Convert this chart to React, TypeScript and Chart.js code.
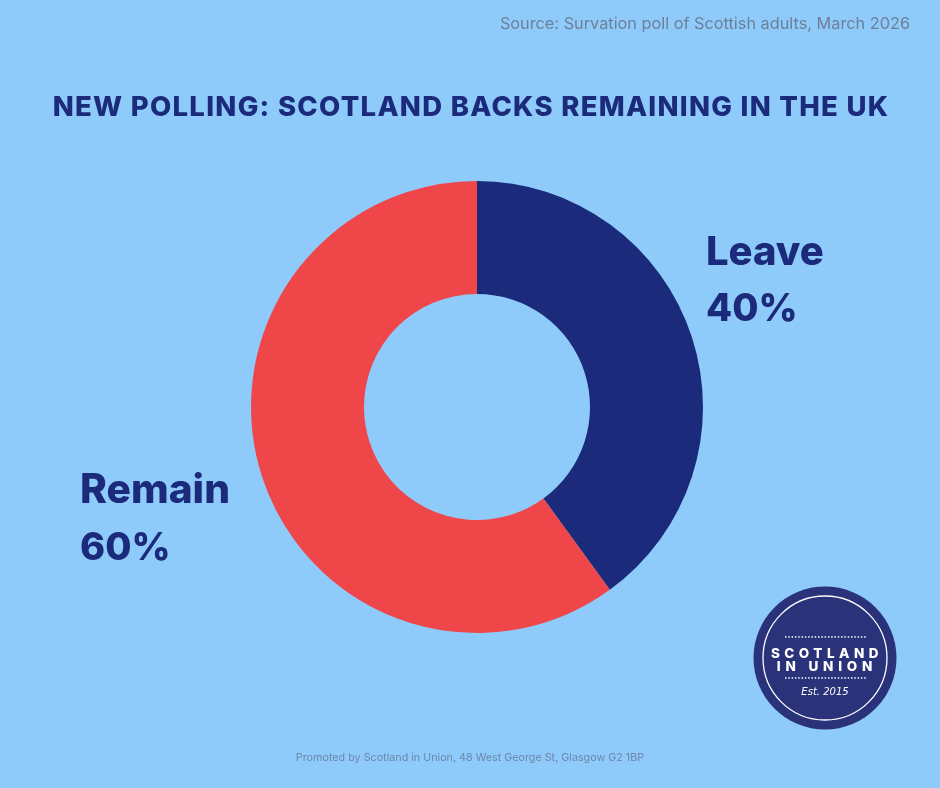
import { useEffect, useRef } from 'react';
import { Chart, registerables, type Plugin } from 'chart.js';

Chart.register(...registerables);

const categories = ['Leave', 'Remain'];
const values = [40, 60];
const colors = ['#1b2a7a', '#ef4749'];

const BG = '#8ecbfb';
const NAVY = '#1b2a7a';
const TITLE = 'NEW POLLING: SCOTLAND BACKS REMAINING IN THE UK';
const SOURCE = 'Source: Survation poll of Scottish adults, March 2026';
const FOOTER = 'Promoted by Scotland in Union, 48 West George St, Glasgow G2 1BP';

function put(ctx: CanvasRenderingContext2D, text: string, x: number, y: number, font: string, color: string, align: CanvasTextAlign = 'left', spacing = '0px') {
  ctx.font = font;
  ctx.fillStyle = color;
  ctx.textAlign = align;
  ctx.textBaseline = 'alphabetic';
  (ctx as any).letterSpacing = spacing;
  ctx.fillText(text, x, y);
  (ctx as any).letterSpacing = '0px';
}

const textPlugin: Plugin<'doughnut'> = {
  id: 'posterText',
  afterDraw(chart) {
    const ctx = chart.ctx;
    ctx.save();
    put(ctx, SOURCE, 910, 29, '16.3px Inter', '#6d7f98', 'right');
    put(ctx, TITLE, 471, 116, '800 27.5px Inter', NAVY, 'center', '1.28px');
    put(ctx, FOOTER, 470, 761, '10.75px Inter', '#6c86a8', 'center');

    const pctFont = '800 38px Inter';
    put(ctx, categories[0], 706, 265, '800 40px Inter', NAVY);
    put(ctx, values[0] + '%', 706, 321, pctFont, NAVY);
    put(ctx, categories[1], 80, 503, '800 40.7px Inter', NAVY);
    put(ctx, values[1] + '%', 80, 560, pctFont, NAVY);

    // logo badge
    const cx = 825, cy = 658;
    ctx.fillStyle = '#2a327a';
    ctx.beginPath();
    ctx.arc(cx, cy, 71.5, 0, Math.PI * 2);
    ctx.fill();
    ctx.strokeStyle = '#ffffff';
    ctx.lineWidth = 1.3;
    ctx.beginPath();
    ctx.arc(cx, cy, 62, 0, Math.PI * 2);
    ctx.stroke();
    ctx.fillStyle = '#ffffff';
    for (const y of [637, 678]) {
      for (let x = 785; x <= 866; x += 3.3) ctx.fillRect(x, y - 0.8, 1.5, 1.5);
    }
    put(ctx, 'SCOTLAND', 827, 658, '800 13.5px Inter', '#ffffff', 'center', '4.5px');
    put(ctx, 'IN UNION', 827, 671, '800 13.5px Inter', '#ffffff', 'center', '4.8px');
    put(ctx, 'Est. 2015', 825, 695, 'italic 10px "DejaVu Sans"', '#ffffff', 'center');
    ctx.restore();
  },
};

export default function App() {
  const ref = useRef<HTMLCanvasElement>(null);

  useEffect(() => {
    if (!ref.current) return;
    document.body.style.margin = '0';
    const chart = new Chart(ref.current, {
      type: 'doughnut',
      data: {
        labels: categories,
        datasets: [{ data: values, backgroundColor: colors, borderWidth: 0 }],
      },
      options: {
        responsive: false,
        animation: false,
        cutout: '50%',
        layout: { padding: { left: 251, right: 237, top: 181, bottom: 155 } },
        plugins: { legend: { display: false }, tooltip: { enabled: false } },
      },
      plugins: [textPlugin],
    });
    return () => chart.destroy();
  }, []);

  return <canvas ref={ref} width={940} height={788} style={{ display: 'block', background: BG }} />;
}
